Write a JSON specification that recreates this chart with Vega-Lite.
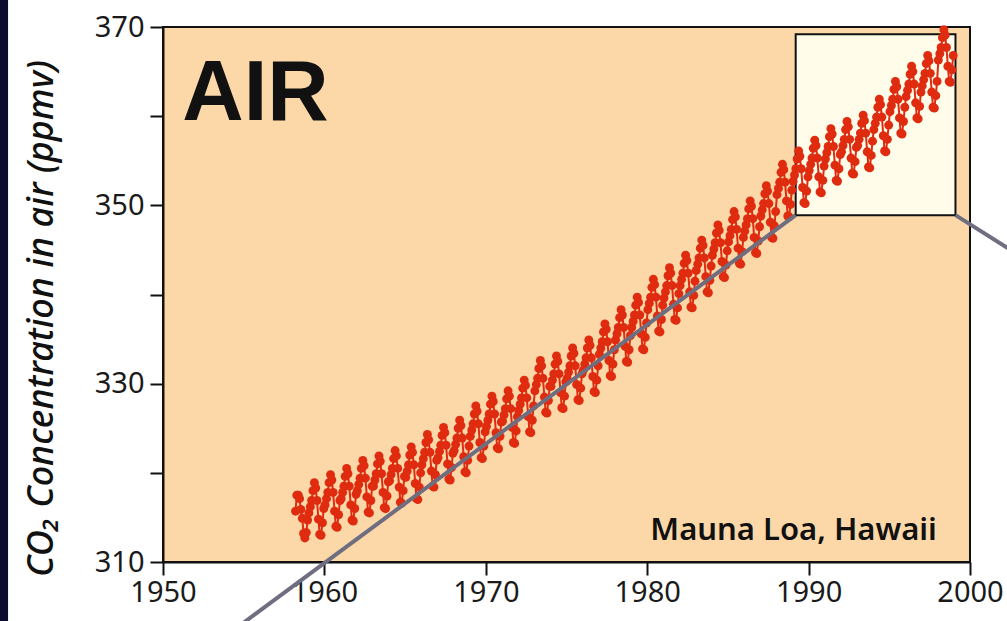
{
  "$schema": "https://vega.github.io/schema/vega-lite/v6.json",
  "width": 807,
  "height": 535,
  "autosize": {"type": "none"},
  "padding": {"left": 163, "top": 27, "right": 37, "bottom": 59},
  "background": "#ffffff",
  "config": {
    "view": {"fill": "#FCD8A8", "stroke": "#111111", "strokeWidth": 2},
    "axis": {
      "labelFont": "Noto Sans",
      "labelFontSize": 29,
      "labelColor": "#1a1a1a",
      "tickColor": "#111111",
      "tickWidth": 2,
      "tickSize": 13,
      "domainColor": "#111111",
      "domainWidth": 2,
      "grid": false,
      "titleFont": "Noto Sans",
      "titleColor": "#111111"
    }
  },
  "datasets": {
    "co2": [
      {"t":1958.21,"c":315.7},{"t":1958.29,"c":317.5},{"t":1958.38,"c":317.5},{"t":1958.46,"c":317.1},{"t":1958.54,"c":315.9},{"t":1958.63,"c":314.9},{"t":1958.71,"c":313.2},{"t":1958.79,"c":312.7},{"t":1958.88,"c":313.3},{"t":1958.96,"c":314.7},
      {"t":1959.04,"c":315.5},{"t":1959.13,"c":316.2},{"t":1959.21,"c":316.9},{"t":1959.29,"c":318.0},{"t":1959.38,"c":318.9},{"t":1959.46,"c":318.3},{"t":1959.54,"c":316.9},{"t":1959.63,"c":314.8},{"t":1959.71,"c":313.1},{"t":1959.79,"c":313.0},{"t":1959.88,"c":314.4},{"t":1959.96,"c":316.0},
      {"t":1960.04,"c":316.4},{"t":1960.13,"c":317.1},{"t":1960.21,"c":317.8},{"t":1960.29,"c":318.9},{"t":1960.38,"c":319.8},{"t":1960.46,"c":319.2},{"t":1960.54,"c":317.8},{"t":1960.63,"c":315.7},{"t":1960.71,"c":314.0},{"t":1960.79,"c":313.9},{"t":1960.88,"c":315.3},{"t":1960.96,"c":316.9},
      {"t":1961.04,"c":317.1},{"t":1961.13,"c":317.8},{"t":1961.21,"c":318.5},{"t":1961.29,"c":319.6},{"t":1961.38,"c":320.5},{"t":1961.46,"c":319.9},{"t":1961.54,"c":318.5},{"t":1961.63,"c":316.4},{"t":1961.71,"c":314.7},{"t":1961.79,"c":314.6},{"t":1961.88,"c":316.0},{"t":1961.96,"c":317.6},
      {"t":1962.04,"c":318.0},{"t":1962.13,"c":318.7},{"t":1962.21,"c":319.4},{"t":1962.29,"c":320.5},{"t":1962.38,"c":321.4},{"t":1962.46,"c":320.8},{"t":1962.54,"c":319.4},{"t":1962.63,"c":317.3},{"t":1962.71,"c":315.6},{"t":1962.79,"c":315.5},{"t":1962.88,"c":316.9},{"t":1962.96,"c":318.5},
      {"t":1963.04,"c":318.5},{"t":1963.13,"c":319.2},{"t":1963.21,"c":319.9},{"t":1963.29,"c":321.0},{"t":1963.38,"c":321.9},{"t":1963.46,"c":321.3},{"t":1963.54,"c":319.9},{"t":1963.63,"c":317.8},{"t":1963.71,"c":316.1},{"t":1963.79,"c":316.0},{"t":1963.88,"c":317.4},{"t":1963.96,"c":319.0},
      {"t":1964.04,"c":319.1},{"t":1964.13,"c":319.8},{"t":1964.21,"c":320.5},{"t":1964.29,"c":321.6},{"t":1964.38,"c":322.5},{"t":1964.46,"c":321.9},{"t":1964.54,"c":320.5},{"t":1964.63,"c":318.4},{"t":1964.71,"c":316.7},{"t":1964.79,"c":316.6},{"t":1964.88,"c":318.0},{"t":1964.96,"c":319.6},
      {"t":1965.04,"c":319.5},{"t":1965.13,"c":320.2},{"t":1965.21,"c":320.9},{"t":1965.29,"c":322.0},{"t":1965.38,"c":322.9},{"t":1965.46,"c":322.3},{"t":1965.54,"c":320.9},{"t":1965.63,"c":318.8},{"t":1965.71,"c":317.1},{"t":1965.79,"c":317.0},{"t":1965.88,"c":318.4},{"t":1965.96,"c":320.0},
      {"t":1966.04,"c":320.9},{"t":1966.13,"c":321.6},{"t":1966.21,"c":322.3},{"t":1966.29,"c":323.4},{"t":1966.38,"c":324.3},{"t":1966.46,"c":323.7},{"t":1966.54,"c":322.3},{"t":1966.63,"c":320.2},{"t":1966.71,"c":318.5},{"t":1966.79,"c":318.4},{"t":1966.88,"c":319.8},{"t":1966.96,"c":321.4},
      {"t":1967.04,"c":321.7},{"t":1967.13,"c":322.4},{"t":1967.21,"c":323.1},{"t":1967.29,"c":324.2},{"t":1967.38,"c":325.1},{"t":1967.46,"c":324.5},{"t":1967.54,"c":323.1},{"t":1967.63,"c":321.0},{"t":1967.71,"c":319.3},{"t":1967.79,"c":319.2},{"t":1967.88,"c":320.6},{"t":1967.96,"c":322.2},
      {"t":1968.04,"c":322.5},{"t":1968.13,"c":323.2},{"t":1968.21,"c":323.9},{"t":1968.29,"c":325.0},{"t":1968.38,"c":325.9},{"t":1968.46,"c":325.3},{"t":1968.54,"c":323.9},{"t":1968.63,"c":321.8},{"t":1968.71,"c":320.1},{"t":1968.79,"c":320.0},{"t":1968.88,"c":321.4},{"t":1968.96,"c":323.0},
      {"t":1969.04,"c":324.1},{"t":1969.13,"c":324.8},{"t":1969.21,"c":325.5},{"t":1969.29,"c":326.6},{"t":1969.38,"c":327.5},{"t":1969.46,"c":326.9},{"t":1969.54,"c":325.5},{"t":1969.63,"c":323.4},{"t":1969.71,"c":321.7},{"t":1969.79,"c":321.6},{"t":1969.88,"c":323.0},{"t":1969.96,"c":324.6},
      {"t":1970.04,"c":325.2},{"t":1970.13,"c":325.9},{"t":1970.21,"c":326.6},{"t":1970.29,"c":327.7},{"t":1970.38,"c":328.6},{"t":1970.46,"c":328.0},{"t":1970.54,"c":326.6},{"t":1970.63,"c":324.5},{"t":1970.71,"c":322.8},{"t":1970.79,"c":322.7},{"t":1970.88,"c":324.1},{"t":1970.96,"c":325.7},
      {"t":1971.04,"c":325.8},{"t":1971.13,"c":326.5},{"t":1971.21,"c":327.2},{"t":1971.29,"c":328.3},{"t":1971.38,"c":329.2},{"t":1971.46,"c":328.6},{"t":1971.54,"c":327.2},{"t":1971.63,"c":325.1},{"t":1971.71,"c":323.4},{"t":1971.79,"c":323.3},{"t":1971.88,"c":324.7},{"t":1971.96,"c":326.3},
      {"t":1972.04,"c":327.0},{"t":1972.13,"c":327.7},{"t":1972.21,"c":328.4},{"t":1972.29,"c":329.5},{"t":1972.38,"c":330.4},{"t":1972.46,"c":329.8},{"t":1972.54,"c":328.4},{"t":1972.63,"c":326.3},{"t":1972.71,"c":324.6},{"t":1972.79,"c":324.5},{"t":1972.88,"c":325.9},{"t":1972.96,"c":327.5},
      {"t":1973.04,"c":329.2},{"t":1973.13,"c":329.9},{"t":1973.21,"c":330.6},{"t":1973.29,"c":331.7},{"t":1973.38,"c":332.6},{"t":1973.46,"c":332.0},{"t":1973.54,"c":330.6},{"t":1973.63,"c":328.5},{"t":1973.71,"c":326.8},{"t":1973.79,"c":326.7},{"t":1973.88,"c":328.1},{"t":1973.96,"c":329.7},
      {"t":1974.04,"c":329.7},{"t":1974.13,"c":330.4},{"t":1974.21,"c":331.1},{"t":1974.29,"c":332.2},{"t":1974.38,"c":333.1},{"t":1974.46,"c":332.5},{"t":1974.54,"c":331.1},{"t":1974.63,"c":329.0},{"t":1974.71,"c":327.3},{"t":1974.79,"c":327.2},{"t":1974.88,"c":328.6},{"t":1974.96,"c":330.2},
      {"t":1975.04,"c":330.6},{"t":1975.13,"c":331.3},{"t":1975.21,"c":332.0},{"t":1975.29,"c":333.1},{"t":1975.38,"c":334.0},{"t":1975.46,"c":333.4},{"t":1975.54,"c":332.0},{"t":1975.63,"c":329.9},{"t":1975.71,"c":328.2},{"t":1975.79,"c":328.1},{"t":1975.88,"c":329.5},{"t":1975.96,"c":331.1},
      {"t":1976.04,"c":331.5},{"t":1976.13,"c":332.2},{"t":1976.21,"c":332.9},{"t":1976.29,"c":334.0},{"t":1976.38,"c":334.9},{"t":1976.46,"c":334.3},{"t":1976.54,"c":332.9},{"t":1976.63,"c":330.8},{"t":1976.71,"c":329.1},{"t":1976.79,"c":329.0},{"t":1976.88,"c":330.4},{"t":1976.96,"c":332.0},
      {"t":1977.04,"c":333.3},{"t":1977.13,"c":334.0},{"t":1977.21,"c":334.7},{"t":1977.29,"c":335.8},{"t":1977.38,"c":336.7},{"t":1977.46,"c":336.1},{"t":1977.54,"c":334.7},{"t":1977.63,"c":332.6},{"t":1977.71,"c":330.9},{"t":1977.79,"c":330.8},{"t":1977.88,"c":332.2},{"t":1977.96,"c":333.8},
      {"t":1978.04,"c":334.9},{"t":1978.13,"c":335.6},{"t":1978.21,"c":336.3},{"t":1978.29,"c":337.4},{"t":1978.38,"c":338.3},{"t":1978.46,"c":337.7},{"t":1978.54,"c":336.3},{"t":1978.63,"c":334.2},{"t":1978.71,"c":332.5},{"t":1978.79,"c":332.4},{"t":1978.88,"c":333.8},{"t":1978.96,"c":335.4},
      {"t":1979.04,"c":336.3},{"t":1979.13,"c":337.0},{"t":1979.21,"c":337.7},{"t":1979.29,"c":338.8},{"t":1979.38,"c":339.7},{"t":1979.46,"c":339.1},{"t":1979.54,"c":337.7},{"t":1979.63,"c":335.6},{"t":1979.71,"c":333.9},{"t":1979.79,"c":333.8},{"t":1979.88,"c":335.2},{"t":1979.96,"c":336.8},
      {"t":1980.04,"c":338.3},{"t":1980.13,"c":339.0},{"t":1980.21,"c":339.7},{"t":1980.29,"c":340.8},{"t":1980.38,"c":341.7},{"t":1980.46,"c":341.1},{"t":1980.54,"c":339.7},{"t":1980.63,"c":337.6},{"t":1980.71,"c":335.9},{"t":1980.79,"c":335.8},{"t":1980.88,"c":337.2},{"t":1980.96,"c":338.8},
      {"t":1981.04,"c":339.6},{"t":1981.13,"c":340.3},{"t":1981.21,"c":341.0},{"t":1981.29,"c":342.1},{"t":1981.38,"c":343.0},{"t":1981.46,"c":342.4},{"t":1981.54,"c":341.0},{"t":1981.63,"c":338.9},{"t":1981.71,"c":337.2},{"t":1981.79,"c":337.1},{"t":1981.88,"c":338.5},{"t":1981.96,"c":340.1},
      {"t":1982.04,"c":341.0},{"t":1982.13,"c":341.7},{"t":1982.21,"c":342.4},{"t":1982.29,"c":343.5},{"t":1982.38,"c":344.4},{"t":1982.46,"c":343.8},{"t":1982.54,"c":342.4},{"t":1982.63,"c":340.3},{"t":1982.71,"c":338.6},{"t":1982.79,"c":338.5},{"t":1982.88,"c":339.9},{"t":1982.96,"c":341.5},
      {"t":1983.04,"c":342.7},{"t":1983.13,"c":343.4},{"t":1983.21,"c":344.1},{"t":1983.29,"c":345.2},{"t":1983.38,"c":346.1},{"t":1983.46,"c":345.5},{"t":1983.54,"c":344.1},{"t":1983.63,"c":342.0},{"t":1983.71,"c":340.3},{"t":1983.79,"c":340.2},{"t":1983.88,"c":341.6},{"t":1983.96,"c":343.2},
      {"t":1984.04,"c":344.4},{"t":1984.13,"c":345.1},{"t":1984.21,"c":345.8},{"t":1984.29,"c":346.9},{"t":1984.38,"c":347.8},{"t":1984.46,"c":347.2},{"t":1984.54,"c":345.8},{"t":1984.63,"c":343.7},{"t":1984.71,"c":342.0},{"t":1984.79,"c":341.9},{"t":1984.88,"c":343.3},{"t":1984.96,"c":344.9},
      {"t":1985.04,"c":345.9},{"t":1985.13,"c":346.6},{"t":1985.21,"c":347.3},{"t":1985.29,"c":348.4},{"t":1985.38,"c":349.3},{"t":1985.46,"c":348.7},{"t":1985.54,"c":347.3},{"t":1985.63,"c":345.2},{"t":1985.71,"c":343.5},{"t":1985.79,"c":343.4},{"t":1985.88,"c":344.8},{"t":1985.96,"c":346.4},
      {"t":1986.04,"c":347.1},{"t":1986.13,"c":347.8},{"t":1986.21,"c":348.5},{"t":1986.29,"c":349.6},{"t":1986.38,"c":350.5},{"t":1986.46,"c":349.9},{"t":1986.54,"c":348.5},{"t":1986.63,"c":346.4},{"t":1986.71,"c":344.7},{"t":1986.79,"c":344.6},{"t":1986.88,"c":346.0},{"t":1986.96,"c":347.6},
      {"t":1987.04,"c":348.8},{"t":1987.13,"c":349.5},{"t":1987.21,"c":350.2},{"t":1987.29,"c":351.3},{"t":1987.38,"c":352.2},{"t":1987.46,"c":351.6},{"t":1987.54,"c":350.2},{"t":1987.63,"c":348.1},{"t":1987.71,"c":346.4},{"t":1987.79,"c":346.3},{"t":1987.88,"c":347.7},{"t":1987.96,"c":349.3},
      {"t":1988.04,"c":351.2},{"t":1988.13,"c":351.9},{"t":1988.21,"c":352.6},{"t":1988.29,"c":353.7},{"t":1988.38,"c":354.6},{"t":1988.46,"c":354.0},{"t":1988.54,"c":352.6},{"t":1988.63,"c":350.5},{"t":1988.71,"c":348.8},{"t":1988.79,"c":348.7},{"t":1988.88,"c":350.1},{"t":1988.96,"c":351.7},
      {"t":1989.04,"c":352.7},{"t":1989.13,"c":353.4},{"t":1989.21,"c":354.1},{"t":1989.29,"c":355.2},{"t":1989.38,"c":356.1},{"t":1989.46,"c":355.5},{"t":1989.54,"c":354.1},{"t":1989.63,"c":352.0},{"t":1989.71,"c":350.3},{"t":1989.79,"c":350.2},{"t":1989.88,"c":351.6},{"t":1989.96,"c":353.2},
      {"t":1990.04,"c":353.9},{"t":1990.13,"c":354.6},{"t":1990.21,"c":355.3},{"t":1990.29,"c":356.4},{"t":1990.38,"c":357.3},{"t":1990.46,"c":356.7},{"t":1990.54,"c":355.3},{"t":1990.63,"c":353.2},{"t":1990.71,"c":351.5},{"t":1990.79,"c":351.4},{"t":1990.88,"c":352.8},{"t":1990.96,"c":354.4},
      {"t":1991.04,"c":355.2},{"t":1991.13,"c":355.9},{"t":1991.21,"c":356.6},{"t":1991.29,"c":357.7},{"t":1991.38,"c":358.6},{"t":1991.46,"c":358.0},{"t":1991.54,"c":356.6},{"t":1991.63,"c":354.5},{"t":1991.71,"c":352.8},{"t":1991.79,"c":352.7},{"t":1991.88,"c":354.1},{"t":1991.96,"c":355.7},
      {"t":1992.04,"c":356.0},{"t":1992.13,"c":356.7},{"t":1992.21,"c":357.4},{"t":1992.29,"c":358.5},{"t":1992.38,"c":359.4},{"t":1992.46,"c":358.8},{"t":1992.54,"c":357.4},{"t":1992.63,"c":355.3},{"t":1992.71,"c":353.6},{"t":1992.79,"c":353.5},{"t":1992.88,"c":354.9},{"t":1992.96,"c":356.5},
      {"t":1993.04,"c":356.7},{"t":1993.13,"c":357.4},{"t":1993.21,"c":358.1},{"t":1993.29,"c":359.2},{"t":1993.38,"c":360.1},{"t":1993.46,"c":359.5},{"t":1993.54,"c":358.1},{"t":1993.63,"c":356.0},{"t":1993.71,"c":354.3},{"t":1993.79,"c":354.2},{"t":1993.88,"c":355.6},{"t":1993.96,"c":357.2},
      {"t":1994.04,"c":358.5},{"t":1994.13,"c":359.2},{"t":1994.21,"c":359.9},{"t":1994.29,"c":361.0},{"t":1994.38,"c":361.9},{"t":1994.46,"c":361.3},{"t":1994.54,"c":359.9},{"t":1994.63,"c":357.8},{"t":1994.71,"c":356.1},{"t":1994.79,"c":356.0},{"t":1994.88,"c":357.4},{"t":1994.96,"c":359.0},
      {"t":1995.04,"c":360.5},{"t":1995.13,"c":361.2},{"t":1995.21,"c":361.9},{"t":1995.29,"c":363.0},{"t":1995.38,"c":363.9},{"t":1995.46,"c":363.3},{"t":1995.54,"c":361.9},{"t":1995.63,"c":359.8},{"t":1995.71,"c":358.1},{"t":1995.79,"c":358.0},{"t":1995.88,"c":359.4},{"t":1995.96,"c":361.0},
      {"t":1996.04,"c":362.2},{"t":1996.13,"c":362.9},{"t":1996.21,"c":363.6},{"t":1996.29,"c":364.7},{"t":1996.38,"c":365.6},{"t":1996.46,"c":365.0},{"t":1996.54,"c":363.6},{"t":1996.63,"c":361.5},{"t":1996.71,"c":359.8},{"t":1996.79,"c":359.7},{"t":1996.88,"c":361.1},{"t":1996.96,"c":362.7},
      {"t":1997.04,"c":363.4},{"t":1997.13,"c":364.1},{"t":1997.21,"c":364.8},{"t":1997.29,"c":365.9},{"t":1997.38,"c":366.8},{"t":1997.46,"c":366.2},{"t":1997.54,"c":364.8},{"t":1997.63,"c":362.7},{"t":1997.71,"c":361.0},{"t":1997.79,"c":360.9},{"t":1997.88,"c":362.3},{"t":1997.96,"c":363.9},
      {"t":1998.04,"c":366.3},{"t":1998.13,"c":367.0},{"t":1998.21,"c":367.7},{"t":1998.29,"c":368.8},{"t":1998.38,"c":369.7},{"t":1998.46,"c":369.1},{"t":1998.54,"c":367.7},{"t":1998.63,"c":365.6},{"t":1998.71,"c":363.9},{"t":1998.79,"c":363.8},{"t":1998.88,"c":365.2},{"t":1998.96,"c":366.8}
    ],
    "zoomBox": [
      {"x0": 1989.2, "x1": 1999.1, "y0": 348.9, "y1": 369.2}
    ],
    "connectors": [
      {"x0": 1954.4, "y0": 302.4, "x1": 1989.2, "y1": 348.9},
      {"x0": 1999.1, "y0": 348.9, "x1": 2002.6, "y1": 344.9}
    ],
    "edge": [
      {"x0": 1938.5, "x1": 1940.4, "y0": 300, "y1": 376}
    ]
  },
  "layer": [
    {
      "data": {"name": "edge"},
      "mark": {"type": "rect", "color": "#0b0b2e", "clip": false},
      "encoding": {
        "x": {"field": "x0", "type": "quantitative", "scale": {"domain": [1950, 2000], "nice": false, "zero": false}},
        "x2": {"field": "x1"},
        "y": {"field": "y0", "type": "quantitative", "scale": {"domain": [310, 370], "nice": false, "zero": false}},
        "y2": {"field": "y1"}
      }
    },
    {
      "data": {"name": "zoomBox"},
      "mark": {"type": "rect", "fill": "#FFFDE9", "stroke": "#111111", "strokeWidth": 2},
      "encoding": {
        "x": {"field": "x0", "type": "quantitative"},
        "x2": {"field": "x1"},
        "y": {"field": "y0", "type": "quantitative"},
        "y2": {"field": "y1"}
      }
    },
    {
      "data": {"name": "co2"},
      "mark": {"type": "line", "color": "#DF2B0F", "strokeWidth": 2},
      "encoding": {
        "x": {
          "field": "t", "type": "quantitative",
          "axis": {"values": [1950, 1960, 1970, 1980, 1990, 2000], "format": "d", "title": null, "labelPadding": 3, "labelFlush": false}
        },
        "y": {
          "field": "c", "type": "quantitative",
          "axis": {
            "values": [310, 320, 330, 340, 350, 360, 370],
            "labelExpr": "datum.value % 20 == 10 ? datum.label : ''",
            "labelPadding": 6,
            "title": "CO₂ Concentration in air (ppmv)",
            "titleFontSize": 36,
            "titleFontStyle": "italic",
            "titleFontWeight": 500,
            "titleAngle": -90,
            "titleBaseline": "alphabetic",
            "titleAlign": "center",
            "titleX": -111,
            "titleY": 291
          }
        }
      }
    },
    {
      "data": {"name": "co2"},
      "mark": {"type": "point", "filled": true, "shape": "circle", "size": 80, "color": "#DF2B0F", "opacity": 1},
      "encoding": {
        "x": {"field": "t", "type": "quantitative"},
        "y": {"field": "c", "type": "quantitative"}
      }
    },
    {
      "data": {"name": "connectors"},
      "mark": {"type": "rule", "color": "#6E6E80", "strokeWidth": 4, "clip": false},
      "encoding": {
        "x": {"field": "x0", "type": "quantitative"},
        "y": {"field": "y0", "type": "quantitative"},
        "x2": {"field": "x1"},
        "y2": {"field": "y1"}
      }
    },
    {
      "data": {"values": [{"label": "AIR"}]},
      "mark": {"type": "text", "font": "Liberation Sans", "fontWeight": "bold", "fontSize": 85, "align": "left", "baseline": "alphabetic", "color": "#111111"},
      "encoding": {
        "x": {"datum": 1951.2},
        "y": {"datum": 359.6},
        "text": {"field": "label"}
      }
    },
    {
      "data": {"values": [{"label": "Mauna Loa, Hawaii"}]},
      "mark": {"type": "text", "font": "Noto Sans", "fontWeight": 600, "fontSize": 31, "align": "right", "baseline": "alphabetic", "color": "#111111"},
      "encoding": {
        "x": {"datum": 1997.95},
        "y": {"datum": 312.5},
        "text": {"field": "label"}
      }
    }
  ]
}
